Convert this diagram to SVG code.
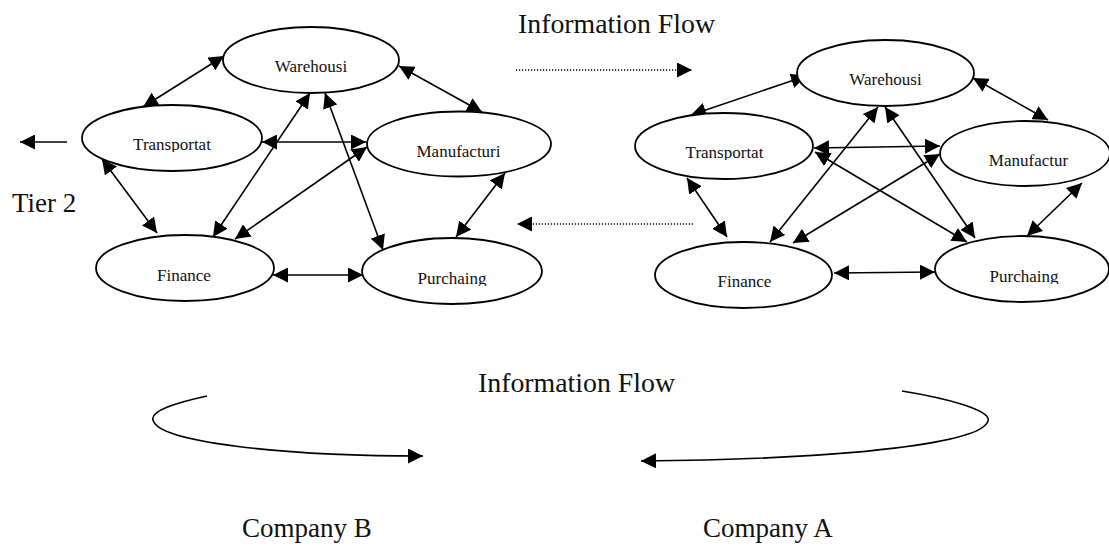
<svg xmlns="http://www.w3.org/2000/svg" width="1109" height="546" viewBox="0 0 1109 546">
<style>
.node ellipse{fill:#fff;stroke:#000;stroke-width:1.8}
.lbl{font-family:"Liberation Serif","Times New Roman",serif;font-size:17px;text-anchor:middle;fill:#111}
.big{font-family:"Liberation Serif","Times New Roman",serif;font-size:27px;fill:#111}
.c line{stroke:#000;stroke-width:1.6;marker-start:url(#ah);marker-end:url(#ah)}
.one{stroke:#000;stroke-width:1.6;fill:none;marker-end:url(#ah)}
.dot{stroke:#000;stroke-width:1.3;stroke-dasharray:1.2 1.8;fill:none;marker-end:url(#ah)}
</style>
<defs>
<marker id="ah" markerUnits="userSpaceOnUse" markerWidth="15" markerHeight="15" viewBox="0 0 15 15" refX="15" refY="7.5" orient="auto-start-reverse">
<path d="M0,0 L15,7.5 L0,15 z" fill="#000"/>
</marker>
<clipPath id="cpTL"><rect x="100" y="120" width="150" height="32"/></clipPath>
<clipPath id="cpPL"><rect x="390" y="255" width="130" height="31"/></clipPath>
<clipPath id="cpTR"><rect x="650" y="128" width="150" height="32"/></clipPath>
<clipPath id="cpPR"><rect x="960" y="252" width="130" height="32"/></clipPath>
</defs>
<rect width="1109" height="546" fill="#fff"/>

<g id="connectors">
<g class="c">
<line x1="143" y1="107" x2="224" y2="56"/>
<line x1="399" y1="66" x2="482" y2="112"/>
<line x1="262" y1="142" x2="366" y2="142"/>
<line x1="102" y1="159" x2="157" y2="233"/>
<line x1="310" y1="93" x2="213" y2="237"/>
<line x1="367" y1="147" x2="235" y2="239"/>
<line x1="325" y1="93" x2="383" y2="250"/>
<line x1="505" y1="173" x2="456" y2="237"/>
<line x1="273" y1="275" x2="363" y2="275"/>

<line x1="806" y1="76" x2="691" y2="115"/>
<line x1="973" y1="78" x2="1048" y2="120"/>
<line x1="814" y1="148" x2="940" y2="146"/>
<line x1="687" y1="178" x2="727" y2="237"/>
<line x1="878" y1="107" x2="770" y2="242"/>
<line x1="940" y1="154" x2="793" y2="243"/>
<line x1="885" y1="107" x2="975" y2="238"/>
<line x1="815" y1="152" x2="967" y2="242"/>
<line x1="1082" y1="183" x2="1027" y2="236"/>
<line x1="834" y1="273" x2="935" y2="272"/>
</g>
<line class="one" x1="67" y1="142" x2="20" y2="142"/>
<line class="dot" x1="516" y1="70" x2="692" y2="70"/>
<line class="dot" x1="693" y1="224" x2="517" y2="224"/>
<path class="one" d="M207,396 C175,403 150,411 153,420 C158,442 280,456 423,456"/>
<path class="one" d="M902,391 C945,398 992,410 988,421 C982,442 860,459 641,461"/>
</g>

<g id="wh-b" class="node"><ellipse cx="311" cy="60" rx="88" ry="33"/><text class="lbl" x="311" y="72">Warehousi</text></g>
<g id="tr-b" class="node"><ellipse cx="172" cy="138" rx="90" ry="33"/><text class="lbl" x="172" y="150" clip-path="url(#cpTL)">Transportat</text></g>
<g id="mf-b" class="node"><ellipse cx="459" cy="144" rx="92" ry="32.5"/><text class="lbl" x="458.5" y="157">Manufacturi</text></g>
<g id="fi-b" class="node"><ellipse cx="185" cy="268" rx="89" ry="33"/><text class="lbl" x="184" y="281">Finance</text></g>
<g id="pu-b" class="node"><ellipse cx="452" cy="271" rx="90" ry="33"/><text class="lbl" x="452" y="284" clip-path="url(#cpPL)">Purchaing</text></g>

<g id="wh-a" class="node"><ellipse cx="885.5" cy="73" rx="88.5" ry="33"/><text class="lbl" x="885.5" y="85">Warehousi</text></g>
<g id="tr-a" class="node"><ellipse cx="724" cy="146" rx="89" ry="33"/><text class="lbl" x="724.5" y="158" clip-path="url(#cpTR)">Transportat</text></g>
<g id="mf-a" class="node"><ellipse cx="1025" cy="153.5" rx="85" ry="32.5"/><text class="lbl" x="1028.5" y="166">Manufactur</text></g>
<g id="fi-a" class="node"><ellipse cx="743.5" cy="275" rx="88.5" ry="33"/><text class="lbl" x="744.5" y="287">Finance</text></g>
<g id="pu-a" class="node"><ellipse cx="1022" cy="269" rx="87" ry="33"/><text class="lbl" x="1024" y="282" clip-path="url(#cpPR)">Purchaing</text></g>

<g id="labels">
<text class="big" x="518" y="33" textLength="197" lengthAdjust="spacingAndGlyphs">Information Flow</text>
<text class="big" x="12" y="212">Tier 2</text>
<text class="big" x="478" y="392" textLength="197" lengthAdjust="spacingAndGlyphs">Information Flow</text>
<text class="big" x="242" y="537">Company B</text>
<text class="big" x="703" y="537">Company A</text>
</g>
</svg>
